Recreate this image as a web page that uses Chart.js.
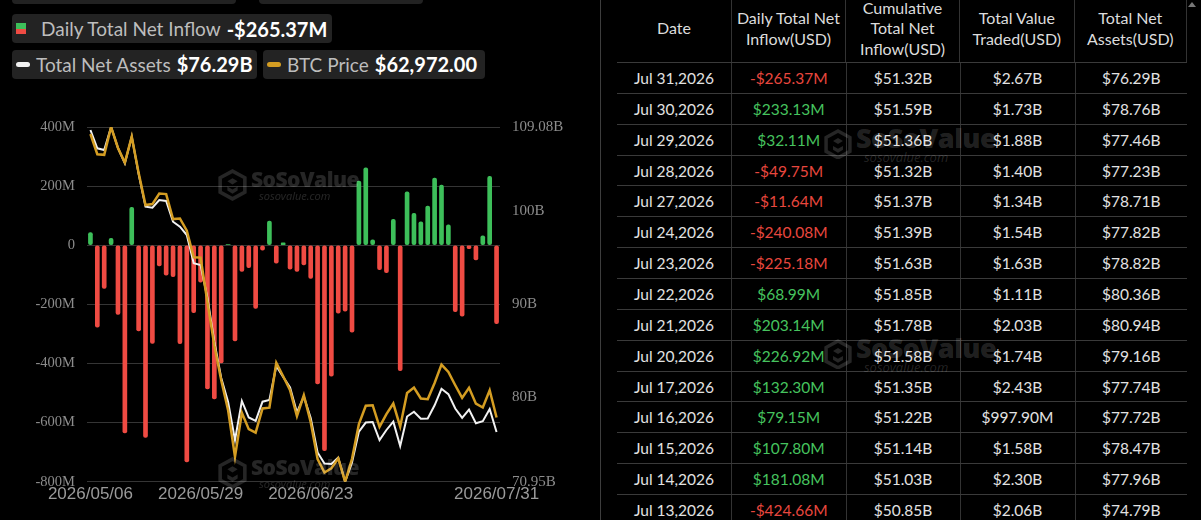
<!DOCTYPE html>
<html>
<head>
<meta charset="utf-8">
<title>Daily Total Net Inflow</title>
<script src="https://cdn.jsdelivr.net/npm/chart.js@4.4.1/dist/chart.umd.min.js"></script>
<style>
  html, body { margin: 0; padding: 0; background: #000; }
  body { width: 1201px; height: 520px; position: relative; overflow: hidden; font-family: Lato, 'Noto Sans', sans-serif; }
  .stub { position: absolute; top: -10px; height: 14px; background: #222; border-radius: 4px; }
  .pill { position: absolute; height: 29px; background: #232323; border-radius: 4px; display: flex; align-items: center; white-space: nowrap; box-sizing: border-box; }
  .pill .lbl { color: #bdbdbd; font-size: 19px; }
  .pill .val { color: #fff; font-size: 20px; font-weight: bold; margin-left: 6px; }
  .sq { width: 10px; height: 11px; margin: 0 15px 0 4.5px; background: linear-gradient(#3dbf5a 50%, #ef4b43 50%); }
  .bar-ic { width: 14px; height: 5px; border-radius: 3px; margin: 0 6px 0 4.5px; }
  #chartWrap { position: absolute; left: 0; top: 100px; width: 600px; height: 420px; }
  .wm { position: absolute; pointer-events: none; color: rgba(255,255,255,0.15); white-space: nowrap; }
  .wm .name { font-family: 'Open Sans', sans-serif; font-weight: 800; letter-spacing: -0.5px; }
  .wm .site { font-family: 'Open Sans', sans-serif; font-style: italic; }
  #tableSide { position: absolute; left: 600px; top: 0; width: 601px; height: 520px; border-left: 1px solid #3d3d3d; box-sizing: border-box; }
  .row { position: absolute; left: 16px; width: 570px; display: flex; border-top: 1px solid #3a3a3a; box-sizing: border-box; }
  .cell { display: flex; align-items: center; justify-content: center; text-align: center; box-sizing: border-box; color: #e2e2e2; font-size: 15.5px; }
  .cell + .cell { border-left: 1px solid #333; }
  .head { border-right: 1px solid #333; }
  .head .cell { color: #dcdcdc; font-size: 16px; line-height: 20.5px; padding-bottom: 5px; }
  .up { color: #46c35e !important; }
  .down { color: #e8473e !important; }
  .arrow { position: absolute; right: 5px; top: 2px; width: 0; height: 0; border-left: 4px solid transparent; border-right: 4px solid transparent; border-bottom: 5px solid #777; }
</style>
</head>
<body>
<div class="stub" style="left:11.5px;width:224.5px"></div>
<div class="stub" style="left:259px;width:164px"></div>

<div class="pill" style="left:11.5px;top:14px;width:320.5px">
  <div class="sq"></div><span class="lbl">Daily Total Net Inflow</span><span class="val" id="vInflow"></span>
</div>
<div class="pill" style="left:11.5px;top:49.5px;width:245.5px">
  <div class="bar-ic" style="background:#f2f2f2"></div><span class="lbl">Total Net Assets</span><span class="val" id="vAssets"></span>
</div>
<div class="pill" style="left:262.5px;top:49.5px;width:222.5px">
  <div class="bar-ic" style="background:#d49d22"></div><span class="lbl">BTC Price</span><span class="val" id="vBtc"></span>
</div>

<div id="chartWrap"><canvas id="flowChart"></canvas></div>

<div id="tableSide"><div class="arrow"></div></div>

<script>
// trading days shown on the chart
const dates = [
  '2026/05/06','2026/05/07','2026/05/08','2026/05/11','2026/05/12','2026/05/13','2026/05/14','2026/05/15',
  '2026/05/18','2026/05/19','2026/05/20','2026/05/21','2026/05/22','2026/05/26','2026/05/27','2026/05/28',
  '2026/05/29','2026/06/01','2026/06/02','2026/06/03','2026/06/04','2026/06/05','2026/06/08','2026/06/09',
  '2026/06/10','2026/06/11','2026/06/12','2026/06/15','2026/06/16','2026/06/17','2026/06/18','2026/06/22',
  '2026/06/23','2026/06/24','2026/06/25','2026/06/26','2026/06/29','2026/06/30','2026/07/01','2026/07/02',
  '2026/07/06','2026/07/07','2026/07/08','2026/07/09','2026/07/10','2026/07/13','2026/07/14','2026/07/15',
  '2026/07/16','2026/07/17','2026/07/20','2026/07/21','2026/07/22','2026/07/23','2026/07/24','2026/07/27',
  '2026/07/28','2026/07/29','2026/07/30','2026/07/31'
];

// daily total net inflow, million USD
const netInflow = [
  43, -277, -146, 23, -234, -635, 128, -290, -650, -332,
  -70, -101, -106, -333, -733, -228, -125, -486, -520, -398,
  2, -324, -89, -76, -214, -17, 82, -61, 8, -81,
  -89, -67, -112, -469, -695, -443, -230, -223, -294, 217,
  262, 18, -83, -93, 88, -424.66, 181.08, 107.80, 79.15, 132.30,
  226.92, 203.14, 68.99, -225.18, -240.08, -11.64, -49.75, 32.11, 233.13, -265.37
];

// total net assets, billion USD
const netAssets = [
  108.76, 106.79, 106.61, 109.08, 106.82, 105.18, 108.04, 104.03, 100.51, 100.41,
  101.23, 101.13, 98.90, 98.36, 97.47, 94.43, 94.25, 90.70, 86.00, 82.10,
  79.52, 75.43, 79.63, 77.85, 77.48, 79.55, 79.73, 83.39, 82.21, 81.08,
  78.39, 80.09, 77.80, 74.09, 72.91, 72.85, 73.55, 70.95, 73.01, 76.33,
  77.31, 77.37, 75.43, 76.51, 77.40, 74.79, 77.96, 78.47, 77.72, 77.74,
  79.16, 80.94, 80.36, 78.82, 77.82, 78.71, 77.23, 77.46, 78.76, 76.29
];

// BTC price, USD
const btcPrice = [
  87990, 86204, 86150, 88607, 86759, 85465, 87753, 84559, 81716, 81804,
  82737, 82684, 80484, 80537, 79455, 77105, 77080, 73145, 69335, 66255,
  63615, 59505, 63395, 61943, 61635, 63764, 63835, 67795, 66607, 65375,
  63087, 64935, 62559, 59303, 58115, 58484, 59364, 57305, 59320, 62383,
  64011, 64055, 62145, 63263, 64204, 62160, 65137, 65612, 64644, 64583,
  66017, 67636, 66985, 65815, 64697, 65590, 64190, 63852, 65375, 62972
];

// table-only columns, newest first (billion USD)
const cumulativeInflow = [51.32, 51.59, 51.36, 51.32, 51.37, 51.39, 51.63, 51.85, 51.78, 51.58, 51.35, 51.22, 51.14, 51.03, 50.85];
const valueTraded = [2.67, 1.73, 1.88, 1.40, 1.34, 1.54, 1.63, 1.11, 2.03, 1.74, 2.43, 0.9979, 1.58, 2.30, 2.06];

const dateTicks = ['2026/05/06', '2026/05/29', '2026/06/23', '2026/07/31'];
const assetTicks = [70.95, 80, 90, 100, 109.08];

const GREEN = '#3dbf5a';
const RED = '#ef4b43';
const GOLD = '#d49d22';
const AXIS_GREY = '#8c8c8c';

// ---- legend values
const last = dates.length - 1;
const fmtM = v => (v < 0 ? '-' : '') + '$' + Math.abs(v).toFixed(2) + 'M';
document.getElementById('vInflow').textContent = fmtM(netInflow[last]);
document.getElementById('vAssets').textContent = '$' + netAssets[last].toFixed(2) + 'B';
document.getElementById('vBtc').textContent = '$' + btcPrice[last].toLocaleString('en-US', { minimumFractionDigits: 2, maximumFractionDigits: 2 });

// ---- chart
new Chart(document.getElementById('flowChart'), {
  data: {
    labels: dates,
    datasets: [
      {
        type: 'line', label: 'BTC Price', data: btcPrice, yAxisID: 'yBtc',
        borderColor: GOLD, borderWidth: 2.5, pointRadius: 0, tension: 0, order: 0
      },
      {
        type: 'line', label: 'Total Net Assets', data: netAssets, yAxisID: 'yAssets',
        borderColor: '#f2f2f2', borderWidth: 2, pointRadius: 0, tension: 0, order: 1
      },
      {
        type: 'bar', label: 'Daily Total Net Inflow', data: netInflow, yAxisID: 'yFlow',
        backgroundColor: netInflow.map(v => v >= 0 ? GREEN : RED),
        barThickness: 4, borderRadius: 2, borderSkipped: false, order: 2
      }
    ]
  },
  options: {
    responsive: true,
    maintainAspectRatio: false,
    animation: false,
    layout: { padding: { top: 27, left: 0, right: 0, bottom: 0 } },
    plugins: { legend: { display: false }, tooltip: { enabled: false } },
    scales: {
      x: {
        type: 'category',
        offset: true,
        grid: { display: false, drawTicks: false },
        border: { display: false },
        ticks: {
          autoSkip: false, maxRotation: 0, minRotation: 0, padding: 2,
          color: '#9a9a9a', font: { family: 'Liberation Sans', size: 17 },
          callback(value) {
            const lbl = this.getLabelForValue(value);
            return dateTicks.includes(lbl) ? lbl : '';
          }
        },
        afterFit(scale) { scale.height = 38.3; }
      },
      yFlow: {
        position: 'left',
        min: -800, max: 400,
        grid: { color: '#353535', drawTicks: false },
        border: { display: false },
        ticks: {
          stepSize: 200, padding: 12, color: AXIS_GREY,
          font: { family: 'Liberation Serif', size: 14.5 },
          callback: v => v === 0 ? '0' : v + 'M'
        },
        afterFit(scale) { scale.width = 87; }
      },
      yAssets: {
        position: 'right',
        min: assetTicks[0], max: assetTicks[assetTicks.length - 1],
        grid: { display: false, drawTicks: false },
        border: { display: false },
        afterBuildTicks(scale) { scale.ticks = assetTicks.map(v => ({ value: v })); },
        ticks: {
          padding: 12, color: AXIS_GREY,
          font: { family: 'Liberation Serif', size: 15 },
          callback: v => v + 'B'
        },
        afterFit(scale) { scale.width = 100; }
      },
      yBtc: {
        display: false,
        min: Math.min(...btcPrice),
        max: Math.max(...btcPrice)
      }
    }
  }
});

// ---- table
const side = document.getElementById('tableSide');
const colW = [114, 114.5, 114, 115, 112.5];
const months = { '05': 'May', '06': 'Jun', '07': 'Jul' };
const fmtB = v => v < 1 ? '$' + (v * 1000).toFixed(2) + 'M' : '$' + v.toFixed(2) + 'B';

function addRow(top, height, cells, isHead) {
  const row = document.createElement('div');
  row.className = 'row' + (isHead ? ' head' : '');
  row.style.top = top + 'px';
  row.style.height = height + 'px';
  if (isHead) row.style.borderTop = 'none';
  cells.forEach((c, i) => {
    const cell = document.createElement('div');
    cell.className = 'cell' + (c.cls ? ' ' + c.cls : '');
    cell.style.width = colW[i] + 'px';
    cell.innerHTML = c.text;
    row.appendChild(cell);
  });
  side.appendChild(row);
}

addRow(0, 62, [
  { text: 'Date' },
  { text: 'Daily Total Net<br>Inflow(USD)' },
  { text: 'Cumulative<br>Total Net<br>Inflow(USD)' },
  { text: 'Total Value<br>Traded(USD)' },
  { text: 'Total Net<br>Assets(USD)' }
], true);

const rowH = 30.86;
for (let k = 0; k < cumulativeInflow.length; k++) {
  const i = last - k;
  const [y, m, d] = dates[i].split('/');
  const flow = netInflow[i];
  addRow(62 + k * rowH, rowH, [
    { text: months[m] + ' ' + d + ',' + y },
    { text: fmtM(flow), cls: flow < 0 ? 'down' : 'up' },
    { text: fmtB(cumulativeInflow[k]) },
    { text: fmtB(valueTraded[k]) },
    { text: fmtB(netAssets[i]) }
  ], false);
}

// ---- watermarks
const logo = s => '<svg width="' + s + '" height="' + (s * 1.1) + '" viewBox="0 0 28 31" style="vertical-align:middle">' +
  '<path d="M14 2 L26 8.5 L26 22.5 L14 29 L2 22.5 L2 8.5 Z" fill="none" stroke="currentColor" stroke-width="3.5"/>' +
  '<path d="M9 12 L14 9 L19 12 L14 15 Z M9 17 L14 20 L19 17 L19 21 L14 24 L9 21 Z" fill="currentColor"/></svg>';

function watermark(left, top, logoSize, nameSize, siteSize) {
  const w = document.createElement('div');
  w.className = 'wm';
  w.style.left = left + 'px';
  w.style.top = top + 'px';
  w.innerHTML = '<div style="display:flex;align-items:center">' + logo(logoSize) +
    '<div style="margin-left:4px;line-height:1"><div class="name" style="font-size:' + nameSize + 'px">SoSoValue</div>' +
    '<div class="site" style="font-size:' + siteSize + 'px;margin-left:8px">sosovalue.com</div></div></div>';
  document.body.appendChild(w);
}
watermark(218, 169, 29, 21, 11);
watermark(218, 457, 29, 21, 11);
watermark(824, 124, 28, 27, 13);
watermark(824, 334, 28, 27, 13);
</script>
</body>
</html>
